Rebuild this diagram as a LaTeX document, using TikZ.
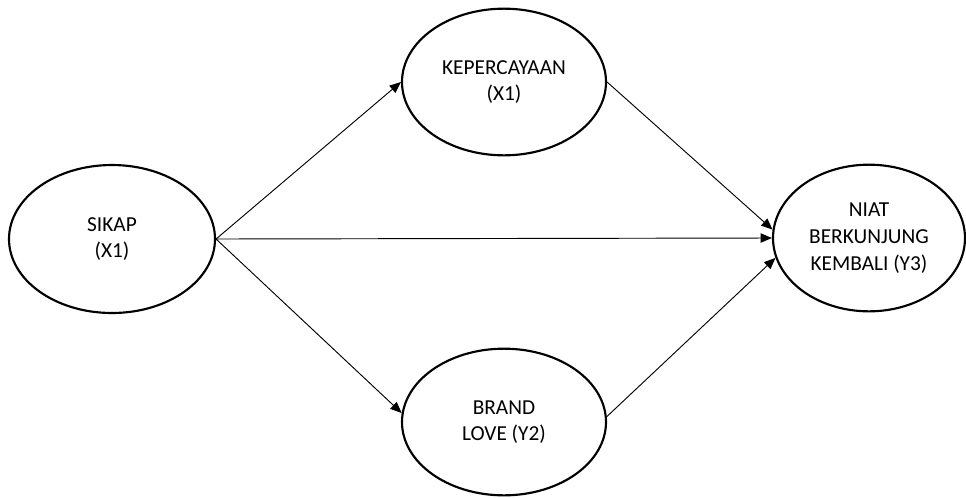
\documentclass[tikz,border=0pt]{standalone}
\usepackage{fontspec}
\setmainfont{Carlito}
\usetikzlibrary{shapes.geometric, arrows.meta}

\begin{document}
\begin{tikzpicture}[
            x=0.75pt, y=-0.75pt,
            latent/.style={ellipse, draw, line width=1.6pt, inner sep=0pt, align=center, minimum width=153pt, minimum height=110pt, font=\fontsize{16}{20}\selectfont},
            arrow/.style={line width=0.7pt, -{Triangle[length=8.5pt, width=7pt]}}
        ]
            \useasboundingbox (0,0) rectangle (966,497);
            \node[latent, minimum width=154.5pt, minimum height=111pt] (sikap) at (112,239) {SIKAP\\(X1)};
            \node[latent] (kepercayaan) at (504,82) {KEPERCAYAAN\\(X1)};
            \node[latent] (brandlove) at (504,422) {BRAND\\LOVE (Y2)};
            \node[latent, minimum width=144pt] (niat) at (869,238) {NIAT\\BERKUNJUNG\\KEMBALI (Y3)};

            \draw[arrow] (sikap.east) -- (kepercayaan.west);
            \draw[arrow] (sikap.east) -- (niat.west);
            \draw[arrow] (sikap.east) -- (brandlove.175);
            \draw[arrow] (kepercayaan.east) -- (niat.175);
            \draw[arrow] (brandlove.3) -- (niat.192);
        \end{tikzpicture}
\end{document}
